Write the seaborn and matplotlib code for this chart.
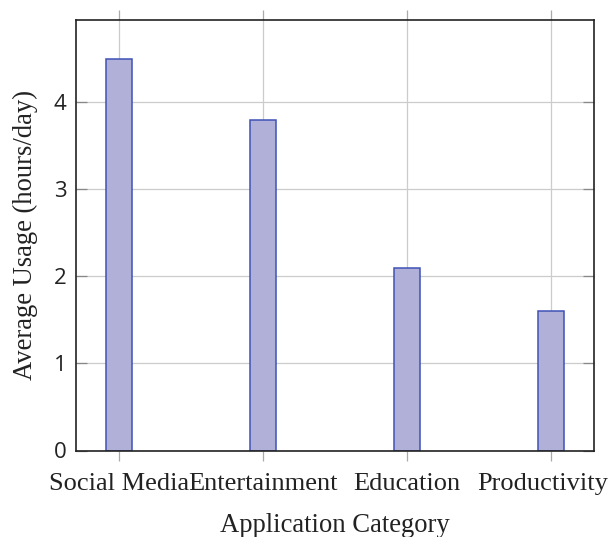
import matplotlib
matplotlib.use("Agg")
import matplotlib.pyplot as plt
import seaborn as sns
import pandas as pd

categories = ["Social Media", "Entertainment", "Education", "Productivity"]
usage_hours = [4.5, 3.8, 2.1, 1.6]
y_ticks = [0, 1, 2, 3, 4]

df = pd.DataFrame({"category": categories, "hours": usage_hours})

sns.set_theme(style="white")
plt.rcParams["font.family"] = ["Liberation Serif", "DejaVu Serif"]

fig = plt.figure(figsize=(6.11, 5.37), dpi=100)
ax = fig.add_axes([76 / 611, 1 - 450.5 / 537, (594 - 76) / 611, (450.5 - 19.5) / 537])

sns.barplot(data=df, x="category", y="hours", ax=ax, width=0.185,
            color="#b0b0d8", edgecolor="#3f51b5", linewidth=1.1,
            saturation=1, zorder=3)

ax.set_xlim(-0.3, 3.3)
ax.set_ylim(0, 4.95)
ax.set_yticks(y_ticks)
ax.set_yticklabels([str(t) for t in y_ticks], fontfamily="Open Sans", fontsize=16)

tick_len = 7.5
tick_pad = 8.5
label_size = 19.0
positions = list(range(len(categories)))
ax.set_xticks(positions)
ax.set_xticklabels(categories[:-1] + [""], fontsize=label_size)
# last category label, nudged left so it stays inside the figure
ax.annotate(categories[-1], xy=(positions[-1], 0), xycoords=ax.get_xaxis_transform(),
            xytext=(-6, -(tick_len + tick_pad)), textcoords="offset points",
            ha="center", va="top", fontsize=label_size, color="#222222")

ax.grid(True, color="#cccccc", linewidth=0.9, zorder=0)
ax.set_axisbelow(True)

for s in ax.spines.values():
    s.set_color("#222222")
    s.set_linewidth(1.2)
    s.set_zorder(4)

ax.tick_params(axis="x", which="major", direction="out", length=tick_len, width=0.9,
               color="#aaaaaa", top=True, bottom=True, pad=tick_pad,
               labelcolor="#222222")
ax.tick_params(axis="y", which="major", direction="in", length=8, width=0.9,
               color="#888888", left=True, right=True, pad=7, labelcolor="#222222")

ax.set_xlabel("Application Category", fontsize=19.2, color="#222222", labelpad=13)
ax.set_ylabel("Average Usage (hours/day)", fontsize=19.2, color="#222222", labelpad=11)

fig.savefig("out.png", dpi=100)
